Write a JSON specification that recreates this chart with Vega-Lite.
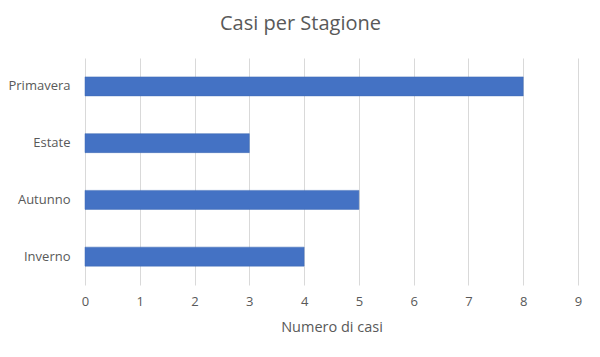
{
  "$schema": "https://vega.github.io/schema/vega-lite/v6.json",
  "autosize": "none",
  "width": 493,
  "height": 227,
  "padding": {"left": 85, "top": 58, "right": 22, "bottom": 72},
  "background": "white",
  "title": {
    "text": "Casi per Stagione",
    "font": "Open Sans",
    "fontSize": 20,
    "fontWeight": "normal",
    "color": "#595959",
    "anchor": "middle",
    "dx": -31,
    "offset": 24
  },
  "data": {
    "values": [
      {"stagione": "Primavera", "casi": 8},
      {"stagione": "Estate", "casi": 3},
      {"stagione": "Autunno", "casi": 5},
      {"stagione": "Inverno", "casi": 4}
    ]
  },
  "mark": {"type": "bar", "color": "#4472C4", "size": 19, "stroke": "#3f6ab5", "strokeWidth": 0.5},
  "encoding": {
    "y": {
      "field": "stagione",
      "type": "nominal",
      "sort": ["Primavera", "Estate", "Autunno", "Inverno"],
      "title": null,
      "axis": {
        "domain": false,
        "ticks": false,
        "labelPadding": 15,
        "labelFont": "Open Sans",
        "labelFontSize": 13,
        "labelColor": "#595959"
      }
    },
    "x": {
      "field": "casi",
      "type": "quantitative",
      "scale": {"domain": [0, 9], "nice": false},
      "title": "Numero di casi",
      "axis": {
        "values": [0, 1, 2, 3, 4, 5, 6, 7, 8, 9],
        "domain": false,
        "ticks": false,
        "grid": true,
        "gridColor": "#d9d9d9",
        "gridWidth": 1,
        "labelFlush": false,
        "labelPadding": 10,
        "labelFont": "Open Sans",
        "labelFontSize": 13,
        "labelColor": "#595959",
        "titleFont": "Open Sans",
        "titleFontSize": 14.5,
        "titleFontWeight": "normal",
        "titleColor": "#595959",
        "titlePadding": 12
      }
    }
  },
  "config": {"view": {"stroke": null}}
}
